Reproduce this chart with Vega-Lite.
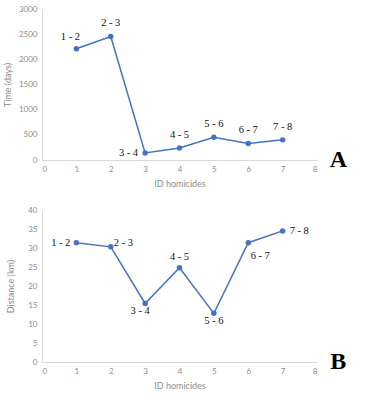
{
  "$schema": "https://vega.github.io/schema/vega-lite/v6.json",
  "padding": {"left": 3, "top": 5, "right": 5, "bottom": 5},
  "spacing": 18,
  "config": {
    "view": {"stroke": null},
    "axis": {
      "labelFont": "Lato", "titleFont": "Lato",
      "labelFontSize": 8, "titleFontSize": 9, "titleFontWeight": "normal",
      "labelColor": "#8c8c8c", "titleColor": "#8c8c8c",
      "ticks": false, "grid": false, "domainColor": "#d9d9d9", "labelPadding": 5
    }
  },
  "datasets": {
    "time": [
      {"id": 1, "value": 2210, "label": "1 - 2"},
      {"id": 2, "value": 2455, "label": "2 - 3"},
      {"id": 3, "value": 140, "label": "3 - 4"},
      {"id": 4, "value": 240, "label": "4 - 5"},
      {"id": 5, "value": 450, "label": "5 - 6"},
      {"id": 6, "value": 330, "label": "6 - 7"},
      {"id": 7, "value": 400, "label": "7 - 8"}
    ],
    "dist": [
      {"id": 1, "value": 31.4, "label": "1 - 2"},
      {"id": 2, "value": 30.3, "label": "2 - 3"},
      {"id": 3, "value": 15.4, "label": "3 - 4"},
      {"id": 4, "value": 24.8, "label": "4 - 5"},
      {"id": 5, "value": 12.8, "label": "5 - 6"},
      {"id": 6, "value": 31.4, "label": "6 - 7"},
      {"id": 7, "value": 34.5, "label": "7 - 8"}
    ],
    "panelA": [{"x": 8.62, "y": 0, "t": "A"}],
    "panelB": [{"x": 8.62, "y": 0, "t": "B"}]
  },
  "vconcat": [
    {
      "width": 275, "height": 151,
      "data": {"name": "time"},
      "encoding": {
        "x": {"field": "id", "type": "quantitative", "title": "ID homicides",
              "scale": {"domain": [0, 8]}, "axis": {"values": [0,1,2,3,4,5,6,7,8], "titlePadding": 6}},
        "y": {"field": "value", "type": "quantitative", "title": "Time (days)",
              "scale": {"domain": [0, 3000]}, "axis": {"values": [0,500,1000,1500,2000,2500,3000], "format": "d", "titlePadding": 6}}
      },
      "layer": [
        {"mark": {"type": "line", "color": "#4472C4", "strokeWidth": 1.5}},
        {"mark": {"type": "point", "filled": true, "color": "#4472C4", "size": 30, "opacity": 1}},
        {"transform": [{"filter": {"field": "id", "oneOf": [2,4,5,6,7]}}],
         "mark": {"type": "text", "font": "Liberation Serif", "fontSize": 10.5, "color": "#111", "dy": -13, "align": "center"},
         "encoding": {"text": {"field": "label"}}},
        {"transform": [{"filter": {"field": "id", "equal": 1}}],
         "mark": {"type": "text", "font": "Liberation Serif", "fontSize": 10.5, "color": "#111", "dy": -12, "dx": -6, "align": "center"},
         "encoding": {"text": {"field": "label"}}},
        {"transform": [{"filter": {"field": "id", "equal": 3}}],
         "mark": {"type": "text", "font": "Liberation Serif", "fontSize": 10.5, "color": "#111", "dx": -7, "align": "right", "baseline": "middle"},
         "encoding": {"text": {"field": "label"}}},
        {"data": {"name": "panelA"},
         "mark": {"type": "text", "font": "Liberation Serif", "fontWeight": "bold", "fontSize": 24, "color": "#000", "baseline": "middle", "align": "center", "clip": false},
         "encoding": {"x": {"field": "x", "type": "quantitative"}, "y": {"field": "y", "type": "quantitative"}, "text": {"field": "t"}}}
      ]
    },
    {
      "width": 275, "height": 152,
      "data": {"name": "dist"},
      "encoding": {
        "x": {"field": "id", "type": "quantitative", "title": "ID homicides",
              "scale": {"domain": [0, 8]}, "axis": {"values": [0,1,2,3,4,5,6,7,8], "titlePadding": 6}},
        "y": {"field": "value", "type": "quantitative", "title": "Distance (km)",
              "scale": {"domain": [0, 40]}, "axis": {"values": [0,5,10,15,20,25,30,35,40], "titlePadding": 12}}
      },
      "layer": [
        {"mark": {"type": "line", "color": "#4472C4", "strokeWidth": 1.5}},
        {"mark": {"type": "point", "filled": true, "color": "#4472C4", "size": 30, "opacity": 1}},
        {"transform": [{"filter": {"field": "id", "equal": 1}}],
         "mark": {"type": "text", "font": "Liberation Serif", "fontSize": 10.5, "color": "#111", "dx": -6, "align": "right", "baseline": "middle"},
         "encoding": {"text": {"field": "label"}}},
        {"transform": [{"filter": {"field": "id", "equal": 2}}],
         "mark": {"type": "text", "font": "Liberation Serif", "fontSize": 10.5, "color": "#111", "dx": 3, "dy": -4, "align": "left", "baseline": "middle"},
         "encoding": {"text": {"field": "label"}}},
        {"transform": [{"filter": {"field": "id", "equal": 3}}],
         "mark": {"type": "text", "font": "Liberation Serif", "fontSize": 10.5, "color": "#111", "dx": -5, "dy": 8, "align": "center", "baseline": "middle"},
         "encoding": {"text": {"field": "label"}}},
        {"transform": [{"filter": {"field": "id", "equal": 4}}],
         "mark": {"type": "text", "font": "Liberation Serif", "fontSize": 10.5, "color": "#111", "dy": -11, "align": "center", "baseline": "middle"},
         "encoding": {"text": {"field": "label"}}},
        {"transform": [{"filter": {"field": "id", "equal": 5}}],
         "mark": {"type": "text", "font": "Liberation Serif", "fontSize": 10.5, "color": "#111", "dy": 8, "align": "center", "baseline": "middle"},
         "encoding": {"text": {"field": "label"}}},
        {"transform": [{"filter": {"field": "id", "equal": 6}}],
         "mark": {"type": "text", "font": "Liberation Serif", "fontSize": 10.5, "color": "#111", "dx": 12, "dy": 13, "align": "center", "baseline": "middle"},
         "encoding": {"text": {"field": "label"}}},
        {"transform": [{"filter": {"field": "id", "equal": 7}}],
         "mark": {"type": "text", "font": "Liberation Serif", "fontSize": 10.5, "color": "#111", "dx": 7, "align": "left", "baseline": "middle"},
         "encoding": {"text": {"field": "label"}}},
        {"data": {"name": "panelB"},
         "mark": {"type": "text", "font": "Liberation Serif", "fontWeight": "bold", "fontSize": 24, "color": "#000", "baseline": "middle", "align": "center", "clip": false},
         "encoding": {"x": {"field": "x", "type": "quantitative"}, "y": {"field": "y", "type": "quantitative"}, "text": {"field": "t"}}}
      ]
    }
  ]
}
